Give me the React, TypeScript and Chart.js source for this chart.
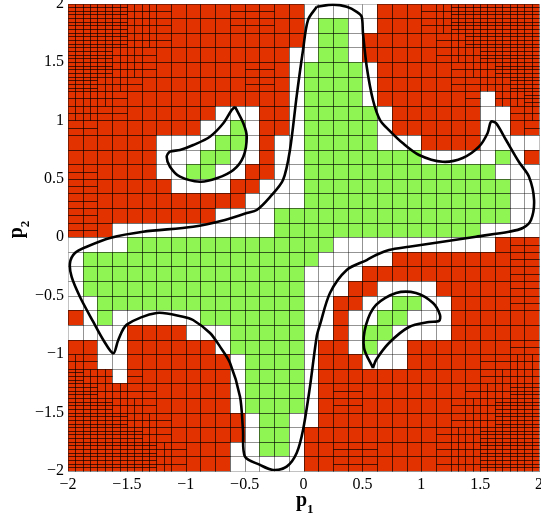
import React, { useEffect, useRef } from "react";
import { Chart, registerables } from "chart.js";

Chart.register(...registerables);

const P_MIN = -2;
const P_MAX = 2;
const CELL = 0.125;
const TICKS = [-2, -1.5, -1, -0.5, 0, 0.5, 1, 1.5, 2];

// Paving, top row = p2 from 2 down, each char = one 0.125 x 0.125 box from p1 = -2.
// 'G' = inside (green), 'W' = undetermined (white), digit = outside (red), digit = extra bisection depth.
const PAVING_ROWS = [
  "3333221000011100WWWWW00012333333",
  "3333221000011100WGGWW00012333333",
  "3333221000000000WGGW000001233333",
  "333221000000000WWGGW000001223333",
  "333221000000110WGGGGW00000122333",
  "332210000000110WGGGGW00000112233",
  "222100000000000WGGGGW0000001W223",
  "2211000000WWW00WGGGGGW000000WW12",
  "110000000WWGW00WGGGGGW000000WW01",
  "000000WWWWGGW0WWGGGGGWWW0000WWWW",
  "000000WWWGGWW0WWGGGGGGGGWWWWWGW0",
  "110000WWGGWW00WWGGGGGGGGGGGGGWWW",
  "1100000WWWW00WWWGGGGGGGGGGGGGGWW",
  "110000000000WWWWGGGGGGGGGGGGGGWW",
  "1100000000WWWWGGGGGGGGGGGGGGGGWW",
  "110WWWWWWWWWWWGGGGGGGGGGGGGGWWWW",
  "WWWWGGGGGGGGGGGGGGWWWWWWWWWWW011",
  "WGGGGGGGGGGGGGGGGWWWWW0000000011",
  "WGGGGGGGGGGGGGGGWWWW000000000011",
  "WGGGGGGGGGGGGGGGWWW00WWWW0000011",
  "WWGGGGGGGGGGGGGGWW00WWGGWW000011",
  "0WGWWWWWWGGGGGGGWW0WWGGWWW000000",
  "WWWW0000WWWGGGGGWW0WGGWWWW000000",
  "00WW000000WGGGGGW00WGWW000000011",
  "21WW0000000WGGGGW000WWW000001122",
  "322W1000000WGGGGW000000000001222",
  "33221100000WGGGGW011000000012233",
  "33322100000WGGGGW011000000122333",
  "333322100000WGGWW000000000122333",
  "333332100000WGGW0000000001223333",
  "33333321000WWGGW0011100001223333",
  "33333321000WWWWW0011100001223333",
];

// Boundary curves (p1, p2)
const MAIN_CURVE: [number, number][] = [
  [0.112, 1.972], [0.251, 1.99], [0.367, 1.972], [0.452, 1.929], [0.494, 1.887],
  [0.505, 1.747], [0.537, 1.459], [0.59, 1.174], [0.65, 1.003], [0.726, 0.917],
  [0.842, 0.806], [0.981, 0.704], [1.182, 0.646], [1.352, 0.678], [1.49, 0.775],
  [1.564, 0.892], [1.592, 0.988], [1.635, 0.977], [1.72, 0.832], [1.83, 0.644],
  [1.915, 0.518], [1.958, 0.319], [1.932, 0.148], [1.862, 0.079], [1.745, 0.047],
  [1.465, 0.005], [1.182, -0.038], [0.896, -0.081], [0.726, -0.109], [0.616, -0.152],
  [0.537, -0.195], [0.367, -0.28], [0.225, -0.477], [0.14, -0.748], [0.112, -0.851],
  [0.055, -1.278], [-0.004, -1.649], [-0.058, -1.846], [-0.143, -1.963], [-0.259, -1.991],
  [-0.369, -1.948], [-0.497, -1.877], [-0.514, -1.649], [-0.539, -1.364], [-0.624, -1.076],
  [-0.709, -0.936], [-0.794, -0.819], [-0.938, -0.708], [-1.023, -0.68], [-1.247, -0.648],
  [-1.501, -0.748], [-1.573, -0.879], [-1.615, -0.993], [-1.7, -0.879], [-1.785, -0.725],
  [-1.898, -0.511], [-1.969, -0.34], [-1.983, -0.22], [-1.941, -0.135], [-1.841, -0.081],
  [-1.643, -0.006], [-1.363, 0.047], [-0.938, 0.09], [-0.667, 0.148], [-0.482, 0.207],
  [-0.397, 0.233], [-0.285, 0.344], [-0.174, 0.49], [-0.115, 0.746], [-0.058, 1.208],
  [-0.004, 1.602], [0.038, 1.858], [0.112, 1.972],
];

const LOOP_UPPER: [number, number][] = [
  [-0.582, 1.117], [-0.511, 0.975], [-0.482, 0.86], [-0.511, 0.689], [-0.596, 0.575],
  [-0.737, 0.504], [-0.879, 0.475], [-1.049, 0.518], [-1.134, 0.604], [-1.162, 0.689],
  [-1.134, 0.732], [-1.049, 0.746], [-0.936, 0.789], [-0.795, 0.86], [-0.681, 0.975],
  [-0.61, 1.089], [-0.582, 1.117],
];

const LOOP_LOWER: [number, number][] = [
  [0.59, -1.118], [0.514, -0.947], [0.531, -0.75], [0.616, -0.579], [0.786, -0.477],
  [0.955, -0.477], [1.1, -0.563], [1.159, -0.665], [1.151, -0.716], [1.066, -0.725],
  [0.896, -0.768], [0.726, -0.905], [0.616, -1.05], [0.59, -1.118],
];

const RED = "#E23200";
const GREEN = "#8FF552";
const WHITE = "#FFFFFF";
const SERIF = "'Liberation Serif', 'Times New Roman', serif";

const SUB_COLS = [1, 1, 2, 2];
const SUB_ROWS = [1, 2, 2, 4];

const fmt = (v: number) => {
  const n = Number(v);
  if (Math.abs(n) < 1e-9) return "0";
  return (n < 0 ? "\u2212" : "") + String(Math.abs(n));
};

const pavingPlugin = {
  id: "paving",
  beforeDatasetsDraw(chart: any) {
    const { ctx, scales } = chart;
    const xs = scales.x;
    const ys = scales.y;
    const px = (v: number) => Math.round(xs.getPixelForValue(v));
    const py = (v: number) => Math.round(ys.getPixelForValue(v));
    ctx.save();
    const cells: { x0: number; y1: number; ch: string }[] = [];
    PAVING_ROWS.forEach((row, j) => {
      for (let i = 0; i < row.length; i++) {
        cells.push({ x0: P_MIN + i * CELL, y1: P_MAX - j * CELL, ch: row[i] });
      }
    });
    for (const c of cells) {
      const a = px(c.x0), b = px(c.x0 + CELL), t = py(c.y1), d = py(c.y1 - CELL);
      ctx.fillStyle = c.ch === "G" ? GREEN : c.ch === "W" ? WHITE : RED;
      ctx.fillRect(a, t, b - a, d - t);
    }
    const strokeBox = (x0: number, x1: number, y0: number, y1: number) => {
      const a = px(x0), b = px(x1), t = py(y1), d = py(y0);
      ctx.strokeRect(a + 0.5, t + 0.5, b - a, d - t);
    };
    ctx.lineWidth = 1;
    const passes: [string, string][] = [
      ["W", "rgba(0,0,0,0.24)"],
      ["G", "rgba(0,0,0,0.4)"],
      ["R", "rgba(0,0,0,0.42)"],
    ];
    for (const [kind, col] of passes) {
      ctx.strokeStyle = col;
      for (const c of cells) {
        const k = c.ch === "G" || c.ch === "W" ? c.ch : "R";
        if (k !== kind) continue;
        if (k === "R") {
          const lvl = Number(c.ch);
          const nx = SUB_COLS[lvl], ny = SUB_ROWS[lvl];
          const w = CELL / nx, h = CELL / ny;
          for (let a = 0; a < nx; a++) {
            for (let b = 0; b < ny; b++) {
              strokeBox(c.x0 + a * w, c.x0 + (a + 1) * w, c.y1 - (b + 1) * h, c.y1 - b * h);
            }
          }
        } else {
          strokeBox(c.x0, c.x0 + CELL, c.y1 - CELL, c.y1);
        }
      }
    }
    ctx.restore();
  },
};

const titlePlugin = {
  id: "axisTitles",
  afterDraw(chart: any) {
    const { ctx, chartArea } = chart;
    ctx.save();
    ctx.fillStyle = "#000";
    ctx.textBaseline = "alphabetic";
    ctx.textAlign = "left";
    const cx = (chartArea.left + chartArea.right) / 2;
    ctx.font = `bold 20px ${SERIF}`;
    const pw = ctx.measureText("p").width;
    ctx.fillText("p", cx - pw / 2 - 2, 506);
    ctx.font = `bold 13px ${SERIF}`;
    ctx.fillText("1", cx - pw / 2 - 2 + pw, 513);
    const cy = (chartArea.top + chartArea.bottom) / 2;
    ctx.translate(22, cy);
    ctx.rotate(-Math.PI / 2);
    ctx.font = `bold 20px ${SERIF}`;
    ctx.fillText("p", -1, 0);
    ctx.font = `bold 13px ${SERIF}`;
    ctx.fillText("2", -1 + pw, 7);
    ctx.restore();
  },
};

const curveDataset = (pts: [number, number][]) => ({
  data: pts.map(([x, y]) => ({ x, y })),
  showLine: true,
  borderColor: "#000000",
  borderWidth: 2.6,
  pointRadius: 0,
  pointHoverRadius: 0,
  tension: 0.3,
  fill: false,
});

export default function App() {
  const ref = useRef<HTMLCanvasElement | null>(null);
  useEffect(() => {
    if (!ref.current) return;
    const tickFont = { family: SERIF, size: 16 };
    const chart = new Chart(ref.current, {
      type: "scatter",
      data: {
        datasets: [curveDataset(MAIN_CURVE), curveDataset(LOOP_UPPER), curveDataset(LOOP_LOWER)],
      },
      plugins: [pavingPlugin, titlePlugin],
      options: {
        animation: false,
        responsive: true,
        maintainAspectRatio: false,
        devicePixelRatio: 1,
        layout: { padding: { top: 3.5, right: 2, left: 0, bottom: 0 } },
        plugins: { legend: { display: false }, tooltip: { enabled: false } },
        scales: {
          x: {
            type: "linear",
            min: P_MIN,
            max: P_MAX,
            grid: { display: false, drawTicks: false },
            border: { display: false },
            afterBuildTicks: (s: any) => {
              s.ticks = TICKS.map((v) => ({ value: v }));
            },
            afterFit: (s: any) => {
              s.height = 45;
              s.paddingLeft = 0;
              s.paddingRight = 0;
            },
            ticks: {
              autoSkip: false,
              maxRotation: 0,
              padding: 4,
              color: "#000",
              font: tickFont,
              callback: (v: any) => fmt(v),
            },
          },
          y: {
            type: "linear",
            min: P_MIN,
            max: P_MAX,
            grid: { display: false, drawTicks: false },
            border: { display: false },
            afterBuildTicks: (s: any) => {
              s.ticks = TICKS.map((v) => ({ value: v }));
            },
            afterFit: (s: any) => {
              s.width = 68;
              s.paddingTop = 0;
              s.paddingBottom = 0;
            },
            ticks: {
              autoSkip: false,
              padding: 4,
              color: "#000",
              font: tickFont,
              callback: (v: any) => fmt(v),
            },
          },
        },
      } as any,
    });
    return () => chart.destroy();
  }, []);
  return (
    <div style={{ position: "absolute", left: 0, top: 0, width: 541, height: 516 }}>
      <canvas ref={ref} />
    </div>
  );
}
